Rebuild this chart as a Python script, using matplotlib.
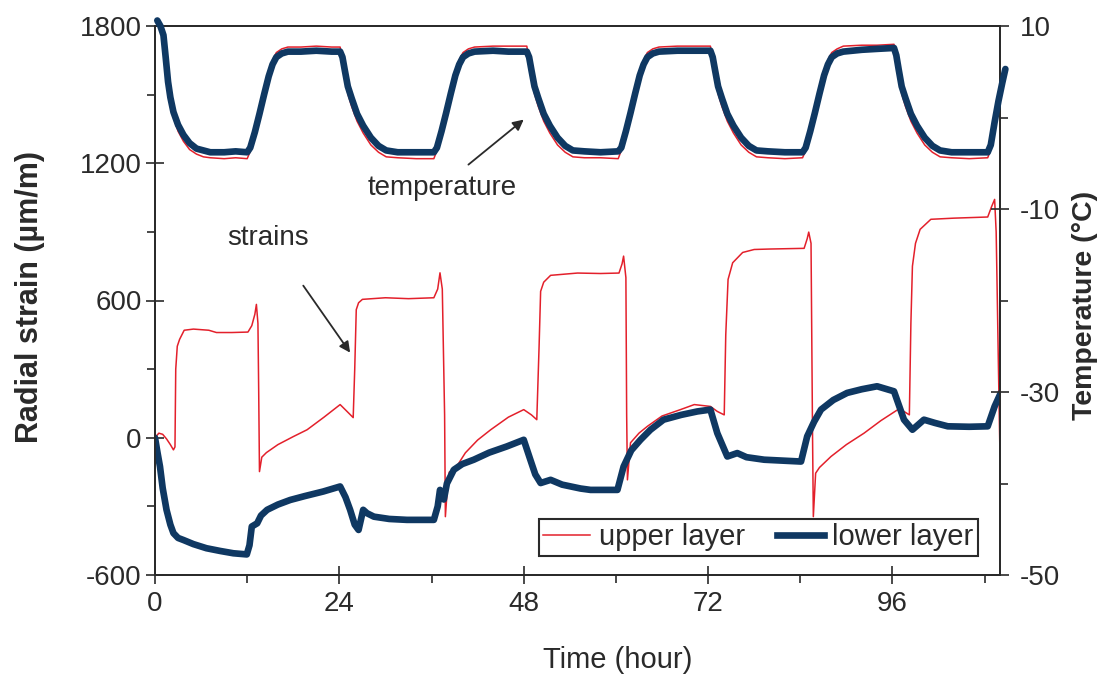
import matplotlib
matplotlib.use('Agg')
import matplotlib.pyplot as plt
from matplotlib.ticker import MultipleLocator
from matplotlib.lines import Line2D

plt.rcParams['font.family'] = ['Liberation Sans', 'DejaVu Sans']
plt.rcParams['axes.unicode_minus'] = False

# ---------------- data ----------------
# upper layer strain (um/m)
t_strain_up = [0, 0.5, 1.0, 1.5, 2.0, 2.4, 2.6, 2.7, 2.9, 3.2, 3.8, 5, 7, 8, 10, 12.1,
               12.6, 13.0, 13.2, 13.4, 13.5, 13.6, 13.9, 14.5, 16, 18, 19.8, 22, 24.1,
               25.0, 25.8, 26.0, 26.2, 26.5, 27, 30, 33, 36.3, 36.8, 37.1, 37.4, 37.7,
               37.8, 38.0, 38.3, 39.0, 40.4, 42, 43.7, 46, 48, 49.0, 49.7, 50.0, 50.2,
               50.6, 51.5, 55, 58, 60.4, 60.8, 61.0, 61.3, 61.4, 61.5, 61.9, 63, 64.1,
               66, 68.4, 70.2, 72.3, 73.2, 74.1, 74.3, 74.6, 75.2, 76.5, 78, 80, 84.5,
               84.9, 85.1, 85.4, 85.6, 85.7, 86.0, 86.5, 88, 90, 92.3, 94.5, 96.7, 97.5,
               98.2, 98.4, 98.6, 99.0, 99.6, 101, 104, 108.4, 108.9, 109.3, 109.5, 109.6,
               109.8, 110.0]
strain_up = [0, 20, 15, -5, -30, -53, -40, 300, 400, 430, 470, 475, 470, 460, 460, 462,
             490, 540, 583, 500, 200, -148, -85, -65, -30, 5, 35, 90, 145,
             115, 88, 300, 560, 590, 605, 612, 608, 612, 650, 721, 650, 100,
             -345, -250, -150, -140, -66, -10, 35, 90, 123, 100, 79, 400, 640,
             680, 710, 720, 718, 720, 760, 794, 700, 100, -184, -22, 20, 50,
             95, 123, 145, 137, 115, 100, 450, 692, 765, 810, 823, 825, 828,
             870, 899, 850, 0, -345, -155, -130, -82, -30, 20, 75, 123, 115,
             100, 500, 750, 850, 911, 955, 960, 965, 1010, 1042, 900, 706,
             300, -82]

# lower layer strain (um/m)
t_strain_low = [0, 0.3, 0.65, 1.0, 1.5, 2.0, 2.4, 3.0, 3.7, 5.0, 6.7, 8.5, 10.2, 11.95,
                12.3, 12.6, 13.3, 13.8, 14.6, 16, 17.6, 19.5, 21.9, 24.1, 24.8, 25.4,
                26.0, 26.5, 27.1, 27.6, 28.5, 30.5, 32.8, 36.3, 36.8, 37.1, 37.6, 38.0,
                38.9, 40, 41.5, 43.5, 45.8, 48, 48.8, 49.5, 50.2, 51.5, 53, 55.4, 56.7,
                60.2, 61.0, 62.0, 63.2, 64.5, 66.2, 68.5, 70.6, 72.3, 73.2, 74.5, 75.8,
                77, 79.3, 84.1, 84.9, 85.8, 86.7, 88.3, 90.1, 92, 94, 96.2, 97.5, 98.6,
                100.1, 101.5, 103.2, 106, 108.4, 109.3, 110.1]
strain_low = [0, -60, -126, -220, -315, -380, -417, -438, -447, -465, -483, -495, -505, -510,
              -470, -388, -374, -340, -315, -292, -272, -255, -235, -213, -260, -315,
              -380, -403, -315, -330, -345, -355, -359, -359, -300, -228, -270, -200,
              -140, -115, -96, -65, -38, -9, -90, -160, -198, -184, -205, -222, -228,
              -228, -126, -55, -9, 35, 79, 100, 115, 123, 20, -82, -67,
              -85, -96, -104, 6, 70, 123, 165, 196, 212, 225, 203, 79, 35,
              79, 65, 50, 48, 50, 137, 196]

# temperature (deg C), shared time grid
t_temp = [0.3, 0.7, 1.1, 1.4, 1.7, 2.0, 2.4, 3.0, 3.7, 4.5, 5.4, 6.3, 7.2, 9.0, 10.5, 12.0,
          12.4, 13.0, 13.6, 14.2, 14.8, 15.3, 15.8, 16.5, 17.3, 19.0, 21.0, 23.0, 24.1,
          24.4, 24.7, 25.1, 25.6, 26.3, 27.1, 28.1, 29.1, 30.1, 31.6, 34.0, 36.3,
          36.7, 37.3, 37.9, 38.5, 39.1, 39.6, 40.1, 40.8, 41.6, 44.0, 46.0, 48.4,
          48.7, 49.0, 49.4, 49.9, 50.6, 51.4, 52.4, 53.4, 54.4, 55.9, 58.0, 60.3,
          60.7, 61.3, 61.9, 62.5, 63.1, 63.6, 64.1, 64.8, 65.6, 68.0, 70.0, 72.3,
          72.6, 72.9, 73.3, 73.8, 74.5, 75.3, 76.3, 77.3, 78.3, 79.8, 82.0, 84.3,
          84.7, 85.3, 85.9, 86.5, 87.1, 87.6, 88.1, 88.8, 89.6, 92.0, 94.0, 96.2,
          96.5, 96.8, 97.2, 97.7, 98.4, 99.2, 100.2, 101.2, 102.2, 103.7, 106.0, 108.4,
          108.8, 109.3, 109.8, 110.3, 110.7]
temp_low = [10.6, 10.0, 9.0, 6.5, 3.9, 2.2, 0.6, -0.8, -1.9, -2.8, -3.4, -3.6, -3.8, -3.8, -3.7, -3.8,
            -3.3, -1.6, 0.4, 2.5, 4.5, 5.8, 6.6, 7.0, 7.2, 7.2, 7.3, 7.2, 7.2,
            6.6, 5.2, 3.4, 2.1, 0.4, -0.9, -2.2, -3.1, -3.6, -3.8, -3.8, -3.8,
            -3.3, -1.5, 0.5, 2.6, 4.6, 5.8, 6.6, 7.0, 7.2, 7.3, 7.2, 7.2,
            6.6, 5.2, 3.4, 2.1, 0.4, -0.9, -2.2, -3.1, -3.6, -3.7, -3.8, -3.7,
            -3.3, -1.5, 0.5, 2.6, 4.6, 5.8, 6.6, 7.0, 7.2, 7.3, 7.3, 7.3,
            6.6, 5.2, 3.4, 2.1, 0.4, -0.9, -2.2, -3.1, -3.6, -3.7, -3.8, -3.8,
            -3.3, -1.5, 0.5, 2.6, 4.6, 5.8, 6.6, 7.0, 7.2, 7.4, 7.5, 7.6,
            6.8, 5.3, 3.4, 2.1, 0.4, -0.9, -2.2, -3.1, -3.6, -3.8, -3.8, -3.8,
            -3.0, -0.5, 1.8, 3.8, 5.3]
temp_up = [10.6, 9.8, 8.5, 5.8, 3.2, 1.5, 0.0, -1.5, -2.6, -3.5, -4.0, -4.3, -4.4, -4.5, -4.4, -4.5,
           -3.7, -1.5, 0.8, 3.0, 5.0, 6.3, 7.1, 7.5, 7.7, 7.7, 7.8, 7.7, 7.7,
           6.4, 4.5, 2.6, 1.2, -0.4, -1.7, -3.0, -3.8, -4.3, -4.4, -4.5, -4.5,
           -3.6, -1.4, 0.8, 3.0, 5.0, 6.3, 7.1, 7.5, 7.7, 7.8, 7.8, 7.8,
           6.4, 4.5, 2.6, 1.2, -0.4, -1.7, -3.0, -3.8, -4.3, -4.4, -4.4, -4.5,
           -3.6, -1.4, 0.8, 3.0, 5.0, 6.3, 7.1, 7.5, 7.7, 7.8, 7.8, 7.8,
           6.4, 4.5, 2.6, 1.2, -0.4, -1.7, -3.0, -3.8, -4.3, -4.4, -4.5, -4.4,
           -3.6, -1.4, 0.8, 3.0, 5.0, 6.3, 7.1, 7.5, 7.8, 7.9, 7.9, 8.0,
           6.6, 4.6, 2.6, 1.2, -0.4, -1.7, -3.0, -3.8, -4.3, -4.4, -4.5, -4.4,
           -3.5, -0.6, 1.9, 4.0, 5.4]

x_ticks = [0, 24, 48, 72, 96]
strain_ticks = [-600, 0, 600, 1200, 1800]
temp_ticks = [-50, -30, -10, 10]
series_labels = ['upper layer', 'lower layer']

# ---------------- styling ----------------
RED = '#e3202b'
BLUE = '#0f3862'
INK = '#2a2a2a'
W, H = 1110, 683

fig = plt.figure(figsize=(W / 100, H / 100), dpi=100)
ax1 = fig.add_axes([155 / W, 1 - 575 / H, 845 / W, 549 / H])
ax2 = ax1.twinx()

ax1.plot(t_strain_up, strain_up, color=RED, lw=1.1, zorder=2)
ax1.plot(t_strain_low, strain_low, color=BLUE, lw=4.8, solid_joinstyle='round',
         solid_capstyle='round', zorder=3)
ax2.plot(t_temp, temp_up, color=RED, lw=1.1, clip_on=False, zorder=2)
ax2.plot(t_temp, temp_low, color=BLUE, lw=4.8, solid_joinstyle='round',
         solid_capstyle='round', clip_on=False, zorder=3)

ax1.set_xlim(0, 110)
ax1.set_ylim(-600, 1800)
ax2.set_ylim(-50, 10)

ax1.set_xticks(x_ticks)
ax1.xaxis.set_minor_locator(MultipleLocator(12))
ax1.set_yticks(strain_ticks)
ax1.yaxis.set_minor_locator(MultipleLocator(300))
ax2.set_yticks(temp_ticks)
ax2.yaxis.set_minor_locator(MultipleLocator(10))

for ax in (ax1, ax2):
    ax.tick_params(which='major', direction='inout', length=13, width=1.2,
                   color=INK, labelsize=20, labelcolor=INK)
    ax.tick_params(which='minor', direction='out', length=6, width=1.2, color=INK)
    for sp in ax.spines.values():
        sp.set_linewidth(1.3)
        sp.set_color(INK)
ax1.tick_params(axis='y', which='major', pad=3)
ax1.tick_params(axis='x', which='major', pad=5)
ax2.tick_params(axis='y', which='major', pad=8)
ax1.tick_params(top=False, right=False, which='both')

fig.text(30 / W, 1 - 297 / H, 'Radial strain (µm/m)', rotation=90, ha='center',
         va='center', fontsize=22, fontweight='bold', color=INK)
fig.text(1085 / W, 1 - 305 / H, 'Temperature (°C)', rotation=90, ha='center',
         va='center', fontsize=20.5, fontweight='bold', color=INK)
fig.text(618 / W, 1 - 660 / H, 'Time (hour)', ha='center', va='center',
         fontsize=21, color=INK)

ax1.text(37.4, 1093, 'temperature', ha='center', va='center', fontsize=20, color=INK)
ax1.annotate('', xy=(48.0, 1391), xytext=(40.8, 1194),
             arrowprops=dict(arrowstyle='-|>', color=INK, lw=1.3, mutation_scale=16,
                             shrinkA=0, shrinkB=0))
ax1.text(14.7, 875, 'strains', ha='center', va='center', fontsize=20, color=INK)
ax1.annotate('', xy=(25.4, 372), xytext=(19.3, 665),
             arrowprops=dict(arrowstyle='-|>', color=INK, lw=1.3, mutation_scale=16,
                             shrinkA=0, shrinkB=0))

handles = [Line2D([], [], color=RED, lw=1.1), Line2D([], [], color=BLUE, lw=4.8)]
leg = ax2.legend(handles, series_labels, ncol=2, loc='lower right',
                 bbox_to_anchor=(0.974, 0.035), borderaxespad=0, frameon=True,
                 fancybox=False, edgecolor=INK, framealpha=1, fontsize=21,
                 handlelength=1.6, handletextpad=0.3, columnspacing=1.1,
                 borderpad=0.15, labelcolor=INK)
leg.get_frame().set_linewidth(1.5)
leg.set_zorder(10)

fig.savefig('out.png', dpi=100)
